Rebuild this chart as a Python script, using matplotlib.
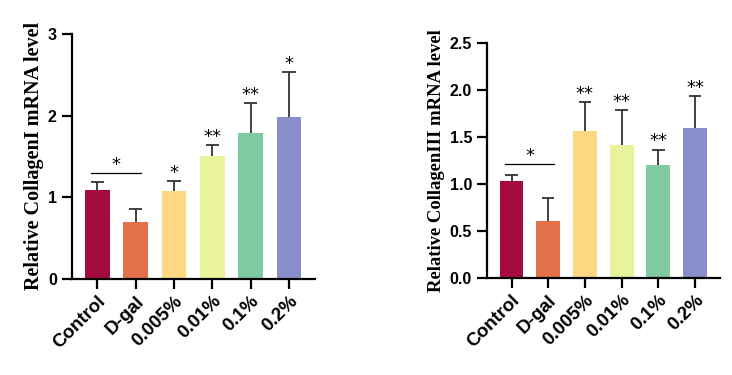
import numpy as np
import matplotlib.pyplot as plt

groups = ['Control', 'D-gal', '0.005%', '0.01%', '0.1%', '0.2%']
colors = ['#A50A3F', '#E2714A', '#FDD782', '#E9F39C', '#7FCAA0', '#8A8FCB']

col1_mean = [1.09, 0.70, 1.07, 1.50, 1.79, 1.98]
col1_sd = [0.09, 0.15, 0.125, 0.14, 0.36, 0.55]
col1_stars = ['', '', '*', '**', '**', '*']

col3_mean = [1.03, 0.61, 1.565, 1.42, 1.20, 1.60]
col3_sd = [0.065, 0.235, 0.31, 0.37, 0.165, 0.335]
col3_stars = ['', '', '**', '**', '**', '**']

fig = plt.figure(figsize=(7.32, 3.75), dpi=100)
ax1 = fig.add_axes([0.0984, 0.2568, 0.332, 0.6525])
ax2 = fig.add_axes([0.6657, 0.2595, 0.318, 0.625])


def draw(ax, mean, sd, stars, ymax, step, ylabel, sig_y, fmt, ysz, offs):
    x = np.arange(len(groups))
    mean = np.array(mean)
    top = mean + np.array(sd)
    ax.bar(x, mean, width=0.65, color=colors, zorder=2)
    # upper-only error bars
    ax.vlines(x, mean, top, color='#333333', lw=1.3, zorder=1)
    ax.hlines(top, x - 0.17, x + 0.17, color='#333333', lw=1.3, zorder=1)
    for i, s in enumerate(stars):
        if s:
            ax.text(x[i], top[i] - offs * 0.3, s, ha='center', va='bottom',
                    fontsize=13, family='DejaVu Sans')
    # Control vs D-gal bracket
    ax.plot([-0.17, 1.15], [sig_y, sig_y], color='black', lw=0.9)
    ax.text(0.49, sig_y - offs * 0.3, '*', ha='center', va='bottom', fontsize=13,
            family='DejaVu Sans')
    ax.set_xlim(-0.66, 5.68)
    ax.set_ylim(0, ymax)
    ticks = np.arange(0, ymax + 1e-9, step)
    ax.set_yticks(ticks)
    ax.set_yticklabels([fmt % v for v in ticks])
    ax.set_xticks(x)
    ax.set_xticklabels(groups, rotation=45, ha='right', rotation_mode='anchor')
    for lab in ax.get_xticklabels():
        lab.set_fontfamily('Liberation Sans')
        lab.set_fontweight('bold')
        lab.set_fontsize(13.5)
    for lab in ax.get_yticklabels():
        lab.set_fontfamily('Liberation Sans')
        lab.set_fontweight('bold')
        lab.set_fontsize(11.5)
    ax.spines['top'].set_visible(False)
    ax.spines['right'].set_visible(False)
    ax.spines['left'].set_linewidth(1.6)
    ax.spines['bottom'].set_linewidth(1.6)
    ax.tick_params(axis='y', width=1.6, length=7, pad=4)
    ax.tick_params(axis='x', width=1.6, length=7, pad=3)
    ax.set_ylabel(ylabel, family='Liberation Serif', fontweight='bold',
                  fontsize=ysz, labelpad=3)


draw(ax1, col1_mean, col1_sd, col1_stars, 3, 1,
     'Relative CollagenI mRNA level', 1.29, '%d', 14.5, 0.03)
draw(ax2, col3_mean, col3_sd, col3_stars, 2.5, 0.5,
     'Relative CollagenIII mRNA level', 1.21, '%.1f', 13.4, 0.025)

fig.savefig('out.png', dpi=100)
